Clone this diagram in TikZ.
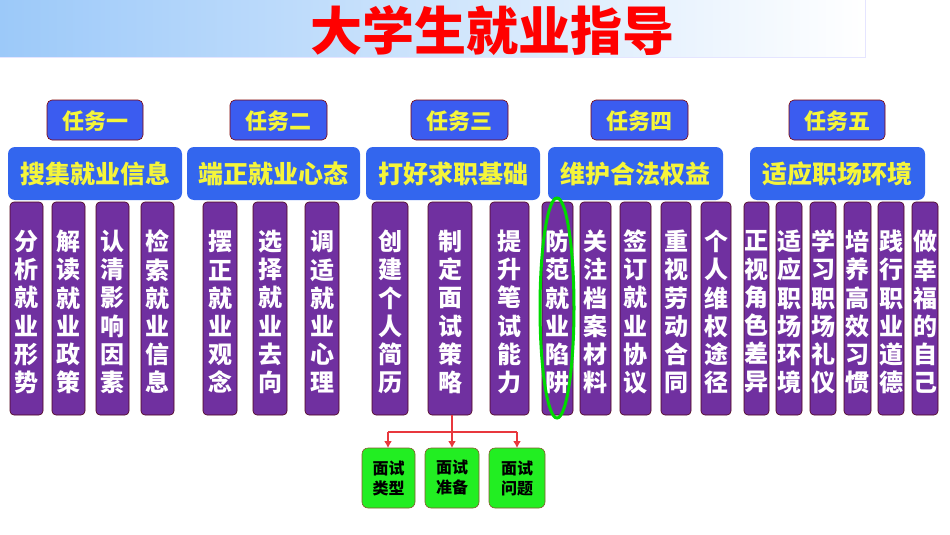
\documentclass[tikz,border=0pt]{standalone}
\usepackage{fontspec}
\newfontfamily\cjk{Noto Sans CJK SC}
\usetikzlibrary{arrows.meta}
\begin{document}
\begin{tikzpicture}[x=1pt,y=-1pt,
  task/.style={draw=red!50!black,line width=0.6pt,fill=blueA,rounded corners=5pt,text=yellowT,font=\cjk\bfseries\fontsize{22}{22}\selectfont,inner sep=0pt},
  cat/.style={fill=blueB,rounded corners=7pt,text=yellowT,font=\cjk\bfseries\fontsize{25}{25}\selectfont,inner sep=0pt},
  vbox/.style={draw=purple!40!black,line width=0.6pt,fill=purpleB,rounded corners=4pt},
  vtxt/.style={text=white,font=\cjk\bfseries\fontsize{24}{28.2}\selectfont,align=center,inner sep=0pt},
  gbox/.style={draw=brown!70!black,line width=0.6pt,fill=greenB,rounded corners=6pt,font=\cjk\bfseries\fontsize{16}{20}\selectfont,align=center,inner sep=0pt},
  rline/.style={draw=redA,line width=2pt},
  rarr/.style={rline,-{Latex[length=7pt,width=8pt]}}
]
\definecolor{blueA}{HTML}{3B5CF0}
\definecolor{blueB}{HTML}{3366EE}
\definecolor{yellowT}{HTML}{F5F53A}
\definecolor{purpleB}{HTML}{7030A0}
\definecolor{greenB}{HTML}{22EE22}
\definecolor{redA}{HTML}{E8383D}
\definecolor{bandL}{HTML}{9CC9F9}
\useasboundingbox (0,0) rectangle (950,535);
\fill[left color=bandL,right color=white] (0,0) rectangle (865,57);
\draw[blue!10,line width=0.6pt] (0,57) -- (865,57) -- (865,0);
\node[text=red,font=\cjk\bfseries\fontsize{52}{52}\selectfont] (title) at (492,31) {大学生就业指导};
\foreach \n/\a/\b/\t in {t1/47/143/任务一,t2/230/327/任务二,t3/411/508/任务三,t4/591/688/任务四,t5/789/885/任务五}{
  \path[task] (\a,100) rectangle (\b,140);
  \node[task,draw=none,fill=none] (\n) at ({(\a+\b)/2},121) {\t};
}
\foreach \n/\a/\b/\t in {c1/8/182/搜集就业信息,c2/187/360/端正就业心态,c3/366/540/打好求职基础,c4/548/723/维护合法权益,c5/750/925/适应职场环境}{
  \path[cat] (\a,147) rectangle (\b,200);
  \node[cat,fill=none] (\n) at ({(\a+\b)/2},174) {\t};
}
\foreach \n/\a/\b/\t in {
 v1/10/43/{分\\析\\就\\业\\形\\势},
 v2/52/85/{解\\读\\就\\业\\政\\策},
 v3/96/129/{认\\清\\影\\响\\因\\素},
 v4/141/174/{检\\索\\就\\业\\信\\息},
 v5/203/237/{摆\\正\\就\\业\\观\\念},
 v6/253/287/{选\\择\\就\\业\\去\\向},
 v7/305/339/{调\\适\\就\\业\\心\\理},
 v8/372/408/{创\\建\\个\\人\\简\\历},
 v9/428/472/{制\\定\\面\\试\\策\\略},
 v10/490/529/{提\\升\\笔\\试\\能\\力},
 v11/542/573/{防\\范\\就\\业\\陷\\阱},
 v12/580/611/{关\\注\\档\\案\\材\\料},
 v13/620/651/{签\\订\\就\\业\\协\\议},
 v14/661/691/{重\\视\\劳\\动\\合\\同},
 v15/701/731/{个\\人\\维\\权\\途\\径},
 v16/744/769/{正\\视\\角\\色\\差\\异},
 v17/776/802/{适\\应\\职\\场\\环\\境},
 v18/810/836/{学\\习\\职\\场\\礼\\仪},
 v19/844/871/{培\\养\\高\\效\\习\\惯},
 v20/878/904/{践\\行\\职\\业\\道\\德},
 v21/912/938/{做\\幸\\福\\的\\自\\己}}{
  \path[vbox] (\a,202) rectangle (\b,415);
  \begin{scope}
  \clip[rounded corners=4pt] (\a,202) rectangle (\b,415);
  \node[vtxt] (\n) at ({(\a+\b)/2},312) {\t};
  \end{scope}
}
\draw[green!85!black,line width=3pt] (557,308) ellipse [x radius=17,y radius=110];
\path[gbox] (362,448) rectangle (415,508);
\node[gbox,draw=none,fill=none] (g1) at (388.5,478) {面试\\类型};
\path[gbox] (425,448) rectangle (479,508);
\node[gbox,draw=none,fill=none] (g2) at (452,478) {面试\\准备};
\path[gbox] (489,448) rectangle (545,508);
\node[gbox,draw=none,fill=none] (g3) at (517,478) {面试\\问题};
\coordinate (vb) at (452,415);
\coordinate (j) at (452,432);
\coordinate (jl) at (388,432);
\coordinate (jr) at (517,432);
\draw[rline] (vb) -- (j);
\draw[rline] (jl) -- (jr);
\draw[rarr] (jl) -- (388,448);
\draw[rarr] (j) -- (452,448);
\draw[rarr] (jr) -- (517,448);
\end{tikzpicture}
\end{document}
